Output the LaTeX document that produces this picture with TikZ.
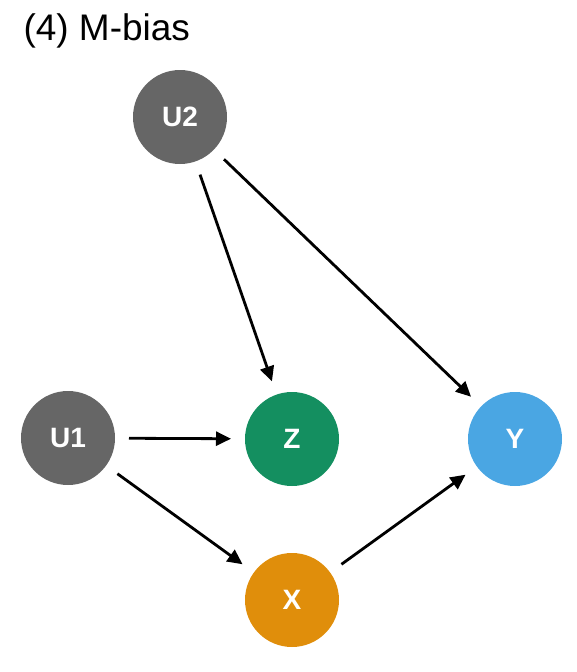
\documentclass[tikz,border=0pt]{standalone}
\usepackage{fontspec}
\setmainfont{Liberation Sans}
\usetikzlibrary{arrows.meta}
\definecolor{ugray}{HTML}{666666}
\definecolor{zgreen}{HTML}{148F60}
\definecolor{yblue}{HTML}{4AA6E3}
\definecolor{xorange}{HTML}{E08E0B}
\begin{document}
\begin{tikzpicture}[x=1pt,y=-1pt,
  var/.style={circle, minimum size=94pt, inner sep=0pt, outer sep=14pt,
    text=white, font=\fontsize{28}{30}\selectfont\bfseries},
  edge/.style={-{Triangle[length=15pt,width=14pt]}, line width=2.8pt, black}]
\useasboundingbox (0,0) rectangle (576,672);
\node[anchor=west, font=\fontsize{37}{40}\selectfont] (title) at (20,31) {(4) M-bias};
\node[var, fill=ugray] (u2) at (180,117) {U2};
\node[var, fill=ugray] (u1) at (68,438) {U1};
\node[var, fill=zgreen] (z) at (292,439) {Z};
\node[var, fill=yblue] (y) at (515,439) {Y};
\node[var, fill=xorange] (x) at (292,600) {X};
\draw[edge] (u2) -- (z);
\draw[edge] (u2) -- (y);
\draw[edge] (u1) -- (z);
\draw[edge] (u1) -- (x);
\draw[edge] (x) -- (y);
\end{tikzpicture}
\end{document}
